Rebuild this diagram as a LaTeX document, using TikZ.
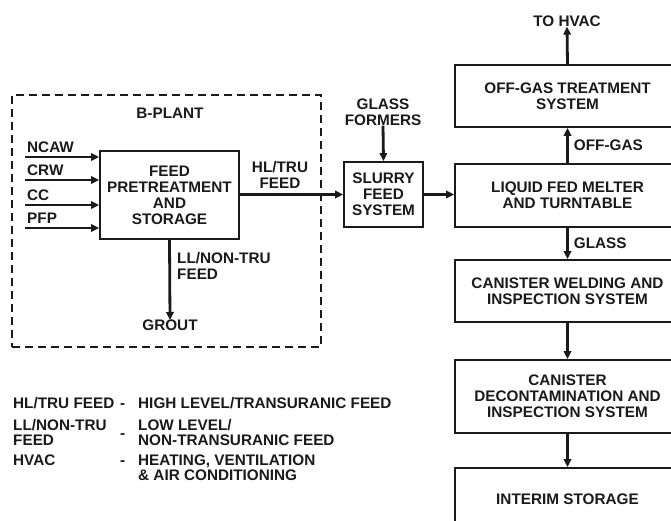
\documentclass[tikz,border=0pt]{standalone}
\usepackage{fontspec}
\setmainfont{Liberation Sans}
\usetikzlibrary{arrows.meta, positioning}
\definecolor{inkblack}{HTML}{1A1A1A}
\tikzset{
  >={Triangle[length=8pt, width=7.5pt]},
  txt/.style={font=\bfseries\fontsize{15.3}{16}\selectfont, text=inkblack, align=center, inner sep=0pt},
  box/.style={txt, rectangle, draw=inkblack, line width=1.8pt},
  zone/.style={rectangle, draw=inkblack, line width=1.6pt, dash pattern=on 8pt off 5pt},
  flow/.style={->, line width=2.8pt, draw=inkblack},
  lbl/.style={txt, align=left},
}

\begin{document}
\begin{tikzpicture}[x=1pt, y=-1pt]
  \useasboundingbox (0,0) rectangle (671,520);
  \clip (0,0) rectangle (671,520);

  % B-plant
  \node[zone, minimum width=309pt, minimum height=252pt] (plant) at (166.5,221) {};
  \node[txt] (plantlbl) at (170,113) {B-PLANT};
  \node[box, minimum width=139pt, minimum height=88pt] (feed) at (169.5,195) {FEED\\PRETREATMENT\\AND\\STORAGE};
  \foreach \src/\yy in {NCAW/157, CRW/180, CC/205, PFP/228} {
    \coordinate (in\src) at (25,\yy);
    \node[lbl, anchor=base west] (lbl\src) at (27,152-157+\yy) {\src};
    \draw[flow] (in\src) -- (feed.west |- in\src);
  }
  \node[txt, anchor=north] (grout) at (170,320) {GROUT};
  \draw[flow] (feed.south) -- (grout.north);
  \node[lbl, anchor=north west] (llfeed) at (177,252) {LL/NON-TRU\\FEED};

  % slurry
  \node[box, minimum width=79pt, minimum height=65pt] (slurry) at (383.5,194.5) {SLURRY\\FEED\\SYSTEM};
  \node[txt] (formers) at (383,112) {GLASS\\FORMERS};
  \draw[flow] (formers.south) -- (slurry.north);
  \node[txt] (hltru) at (280,175) {HL/TRU\\FEED};
  \draw[flow] (feed.east |- slurry) -- (slurry.west);

  % melter column
  \node[box, minimum width=225pt, minimum height=62pt] (offgas) at (567.5,96) {OFF-GAS TREATMENT\\SYSTEM};
  \node[box, minimum width=225pt, minimum height=63pt] (melter) at (567.5,195.5) {LIQUID FED MELTER\\AND TURNTABLE};
  \node[box, minimum width=225pt, minimum height=62pt] (weld) at (567.5,291) {CANISTER WELDING AND\\INSPECTION SYSTEM};
  \node[box, minimum width=225pt, minimum height=73pt] (decon) at (567.5,396.5) {CANISTER\\DECONTAMINATION AND\\INSPECTION SYSTEM};
  \node[box, minimum width=225pt, minimum height=62pt] (interim) at (567.5,499) {INTERIM STORAGE};
  \node[txt] (hvac) at (567,21) {TO HVAC};
  \draw[flow] (slurry.east) -- (melter.west |- slurry.east);
  \draw[flow] (offgas.north) -- (hvac.south);
  \draw[flow] (melter.north) -- node[lbl, right=5pt] (offgaslbl) {OFF-GAS} (offgas.south);
  \draw[flow] (melter.south) -- node[lbl, right=5pt] (glasslbl) {GLASS} (weld.north);
  \draw[flow] (weld.south) -- (decon.north);
  \draw[flow] (decon.south) -- (interim.north);

  % legend
  \node[lbl, anchor=base west] (k1) at (13,408) {HL/TRU FEED};
  \node[lbl, anchor=base west] (d1) at (120,408) {-};
  \node[lbl, anchor=base west] (v1) at (138,408) {HIGH LEVEL/TRANSURANIC FEED};
  \node[lbl, anchor=base west] (k2) at (13,430) {LL/NON-TRU};
  \node[lbl, anchor=base west] (k2b) at (13,445) {FEED};
  \node[lbl, anchor=base west] (d2) at (120,438) {-};
  \node[lbl, anchor=base west] (v2) at (138,430) {LOW LEVEL/};
  \node[lbl, anchor=base west] (v2b) at (138,445) {NON-TRANSURANIC FEED};
  \node[lbl, anchor=base west] (k3) at (13,465) {HVAC};
  \node[lbl, anchor=base west] (d3) at (120,465) {-};
  \node[lbl, anchor=base west] (v3) at (138,465) {HEATING, VENTILATION};
  \node[lbl, anchor=base west] (v3b) at (138,480) {\& AIR CONDITIONING};
\end{tikzpicture}
\end{document}
